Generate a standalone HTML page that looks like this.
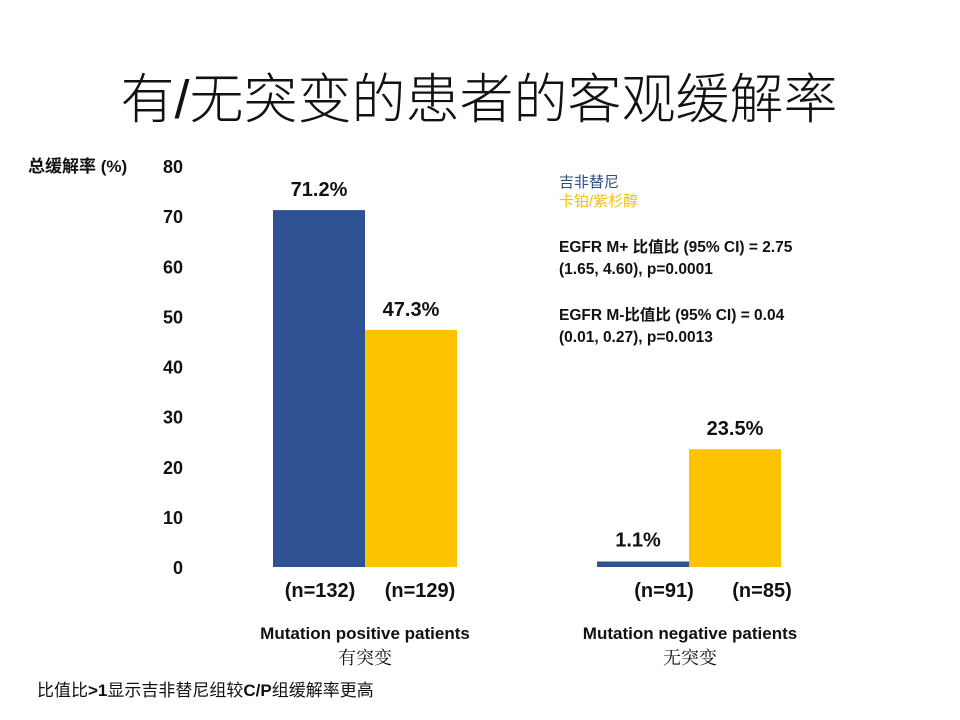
<!DOCTYPE html>
<html><head><meta charset="utf-8"><style>
body{margin:0;background:#fff;}
svg{display:block;font-family:"Liberation Sans","Noto Sans CJK SC",sans-serif;}
.b{font-weight:bold;}
</style></head><body>
<svg id="c" width="960" height="720">
<text x="479" y="118" text-anchor="middle" font-size="54" font-family="'Liberation Sans','Noto Sans CJK SC',sans-serif" font-weight="300" fill="#111">有/无突变的患者的客观缓解率</text>
<text x="28" y="172" font-size="17" class="b" fill="#111">总缓解率 (%)</text>
<g id="ticks"></g><g id="bars"></g>
<text x="559" y="187" font-size="15" fill="#2E4E7E">吉非替尼</text>
<text x="559" y="206" font-size="15" fill="#F2C200">卡铂/紫杉醇</text>
<g font-size="15.5" class="b" fill="#111">
<text x="559" y="252">EGFR M+ 比值比 (95% CI) = 2.75</text>
<text x="559" y="274">(1.65, 4.60), p=0.0001</text>
<text x="559" y="320">EGFR M-比值比 (95% CI) = 0.04</text>
<text x="559" y="342">(0.01, 0.27), p=0.0013</text>
</g>
<text x="365" y="639" text-anchor="middle" font-size="17" class="b" fill="#111">Mutation positive patients</text>
<text x="365" y="664" text-anchor="middle" font-size="18" font-family="'Noto Serif CJK SC',serif" fill="#111">有突变</text>
<text x="690" y="639" text-anchor="middle" font-size="17" class="b" fill="#111">Mutation negative patients</text>
<text x="690" y="664" text-anchor="middle" font-size="18" font-family="'Noto Serif CJK SC',serif" fill="#111">无突变</text>
<text x="37" y="696" font-size="17" fill="#111">比值比<tspan class="b">&gt;1</tspan>显示吉非替尼组较<tspan class="b">C/P</tspan>组缓解率更高</text>
</svg>
<script>
const categories=["positive","negative"];
const gefitinib=[71.2,1.1];
const carboPac=[47.3,23.5];
const nGef=["(n=132)","(n=91)"];
const nCP=["(n=129)","(n=85)"];
const yTicks=[0,10,20,30,40,50,60,70,80];
const NS="http://www.w3.org/2000/svg";
const y=v=>567-v*5.0125;
const groupX=[273,597], bw=92;
const nOff=[[1,9],[21,27]];
function mk(t,a,p){const e=document.createElementNS(NS,t);for(const k in a)e.setAttribute(k,a[k]);p.appendChild(e);return e;}
const tg=document.getElementById('ticks');
yTicks.forEach(v=>{const t=mk('text',{x:183,y:y(v)+7,'text-anchor':'end','font-size':18,'font-weight':'bold',fill:'#111'},tg);


t.textContent=v;});
const bg=document.getElementById('bars');
categories.forEach((c,i)=>{
 const x0=groupX[i];
 [[gefitinib[i],'#2E5294',x0,nGef[i],'gefitinib',0],[carboPac[i],'#FDC300',x0+bw,nCP[i],'carbo',1]].forEach(([v,col,x,n,s,k])=>{
  const r=mk('rect',{x:x,y:y(v),width:bw,height:y(0)-y(v),fill:col},bg);
  
  
  const l=mk('text',{x:x+bw/2-(v<5?5:0),y:y(v)-(v<5?15:14),'text-anchor':'middle','font-size':20,'font-weight':'bold',fill:'#111'},bg);
  
  
  l.textContent=v.toFixed(1)+'%';
  const nl=mk('text',{x:x+bw/2+nOff[i][k],y:597,'text-anchor':'middle','font-size':20,'font-weight':'bold',fill:'#111'},bg);
  
  
  nl.textContent=n;
 });
});
</script>
</body></html>
